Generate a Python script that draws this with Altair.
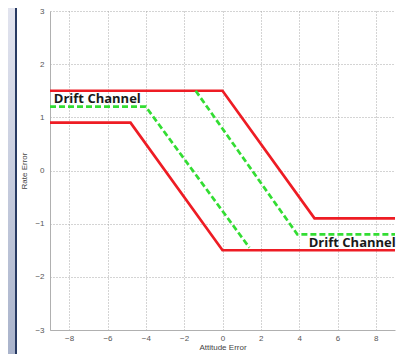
import altair as alt
import pandas as pd

# Series data
red_upper_x = [-9, 0, 4.8, 9]
red_upper_y = [1.5, 1.5, -0.9, -0.9]
red_lower_x = [-9, -4.8, 0, 9]
red_lower_y = [0.9, 0.9, -1.5, -1.5]
green_left_x = [-9, -4.0, 1.4]
green_left_y = [1.2, 1.2, -1.45]
green_right_x = [-1.4, 3.9, 9]
green_right_y = [1.5, -1.2, -1.2]

label_texts = ["Drift Channel", "Drift Channel"]
label_x = [-8.8, 4.5]
label_y = [1.34, -1.36]

x_ticks = [-8, -6, -4, -2, 0, 2, 4, 6, 8]
y_ticks = [-3, -2, -1, 0, 1, 2, 3]

rows = []
for name, kind, xs, ys in [
    ("red_upper", "red", red_upper_x, red_upper_y),
    ("red_lower", "red", red_lower_x, red_lower_y),
    ("green_left", "green", green_left_x, green_left_y),
    ("green_right", "green", green_right_x, green_right_y),
]:
    for i, (xv, yv) in enumerate(zip(xs, ys)):
        rows.append({"series": name, "kind": kind, "order": i, "x": xv, "y": yv})
df = pd.DataFrame(rows)
labels = pd.DataFrame({"text": label_texts, "x": label_x, "y": label_y})

W, H = 345, 319

xscale = alt.Scale(domain=[-9, 9], nice=False, zero=False)
yscale = alt.Scale(domain=[-3, 3], nice=False, zero=False)

xaxis = alt.Axis(values=x_ticks, format="d", title="Attitude Error", grid=True, gridDash=[1, 2],
                 gridColor="#a8a8a8", domainColor="#b0b0b0", ticks=False,
                 labelColor="#555555", labelFontSize=8, labelFont="Liberation Sans",
                 labelPadding=4, titleFont="Liberation Sans", titleFontSize=8,
                 titleFontWeight="normal", titleColor="#444444", titlePadding=1)
yaxis = alt.Axis(values=y_ticks, format="d", title="Rate Error", grid=True, gridDash=[1, 2],
                 gridColor="#a8a8a8", domainColor="#b0b0b0", ticks=False,
                 labelColor="#555555", labelFontSize=8, labelFont="Liberation Sans",
                 labelPadding=6, titleFont="Liberation Sans", titleFontSize=8,
                 titleFontWeight="normal", titleColor="#444444", titlePadding=6)

one = alt.Data(values=[{}])

strip = alt.Chart(one).mark_rect(
    fill=alt.LinearGradient(
        gradient="linear",
        stops=[alt.GradientStop(color="#e2e4ef", offset=0),
               alt.GradientStop(color="#a9b3cb", offset=1)],
        x1=0, x2=0, y1=0, y2=1),
).encode(x=alt.value(-42), x2=alt.value(-35), y=alt.value(-3), y2=alt.value(346))

border = alt.Chart(one).mark_rule(color="#283a62", strokeWidth=2).encode(
    x=alt.value(-34), y=alt.value(-8), y2=alt.value(350))

base = alt.Chart(df).encode(
    x=alt.X("x:Q", scale=xscale, axis=xaxis),
    y=alt.Y("y:Q", scale=yscale, axis=yaxis),
    order="order:Q",
    detail="series:N",
)

red = base.transform_filter(alt.datum.kind == "red").mark_line(
    color="#ee1c24", strokeWidth=2.7)
green = base.transform_filter(alt.datum.kind == "green").mark_line(
    color="#33dd33", strokeWidth=2.7, strokeDash=[6, 3])

text = alt.Chart(labels).mark_text(
    align="left", baseline="middle", font="Open Sans", fontSize=13,
    fontWeight="bold", color="#1a1a1a"
).encode(x=alt.X("x:Q", scale=xscale), y=alt.Y("y:Q", scale=yscale), text="text:N")

chart = alt.layer(strip, border, red, green, text).properties(
    width=W, height=H,
    autosize=alt.AutoSizeParams(type="none"),
    padding={"left": 42, "top": 3, "right": 2, "bottom": 24},
    background="white",
).configure_view(stroke=None)

chart.save("out.html", embed_options={"renderer": "svg", "actions": False})
